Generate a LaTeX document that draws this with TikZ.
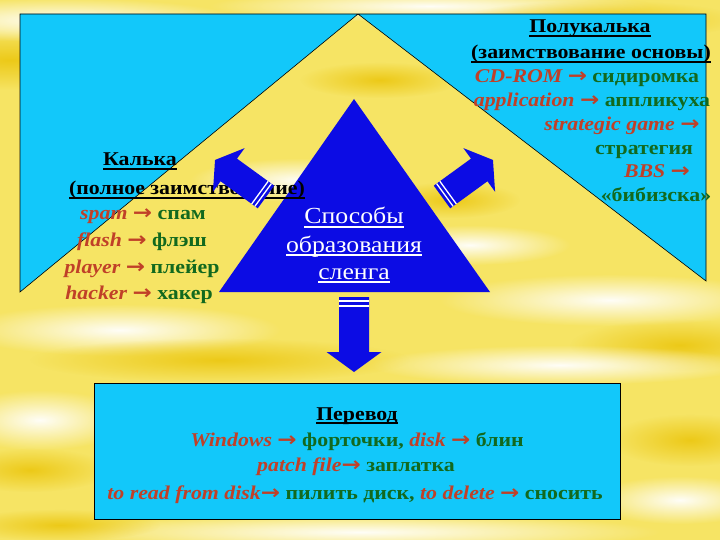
\documentclass[tikz,border=0pt]{standalone}
\usepackage{fontspec}
\usetikzlibrary{fadings}
\tikzfading[name=softspot, inner color=transparent!0, outer color=transparent!100]
\setmainfont{Liberation Serif}[FakeStretch=1.12]
\newfontfamily\arrowfont{DejaVu Sans}[FakeStretch=1.15]
\definecolor{bgyellow}{RGB}{246,228,100}
\definecolor{bggold}{RGB}{236,200,20}
\definecolor{cyanfill}{RGB}{18,200,250}
\definecolor{bluefill}{RGB}{12,12,228}
\definecolor{enc}{RGB}{192,64,40}
\definecolor{ruc}{RGB}{18,105,30}
\newsavebox\ulbox
\newcommand\ulbar[1]{\leavevmode\sbox\ulbox{#1}\rlap{\vrule height -2.4pt depth 3.8pt width \wd\ulbox}\usebox\ulbox}
\newcommand\en[1]{{\color{enc}\bfseries\itshape #1}}
\newcommand\ru[1]{{\color{ruc}\bfseries #1}}
\newcommand\arr{{\color{enc}\arrowfont\bfseries\fontsize{20}{23}\selectfont →}}
\newcommand\ttl[1]{{\bfseries\ulbar{#1}}}
\tikzset{
  txt/.style={anchor=base, inner sep=0pt, font=\fontsize{19.5}{23}\selectfont},
  tritxt/.style={anchor=base, inner sep=0pt, text=white, font=\fontsize{23}{27}\selectfont},
  shapeline/.style={draw=black, line width=0.6pt},
  bluearrow/.style={fill=bluefill},
  stripe/.style={draw=white, line width=1.3pt},
  glow/.style={fill=white, path fading=softspot, opacity=0.95},
  gold/.style={fill=bggold, path fading=softspot, opacity=0.95}
}
\begin{document}
\begin{tikzpicture}[x=1pt,y=-1pt]
\useasboundingbox (0,0) rectangle (720,540);
% background
\fill[bgyellow] (0,0) rectangle (720,540);
\fill[gold] (10,60) ellipse [x radius=140, y radius=30];
\fill[glow] (60,20) ellipse [x radius=180, y radius=22];
\fill[glow] (430,6) ellipse [x radius=220, y radius=16];
\fill[gold] (600,20) ellipse [x radius=140, y radius=20];
\fill[glow] (610,300) ellipse [x radius=170, y radius=26];
\fill[gold] (680,345) ellipse [x radius=110, y radius=26];
\fill[glow] (120,330) ellipse [x radius=160, y radius=26];
\fill[gold] (220,360) ellipse [x radius=190, y radius=22];
\fill[glow] (560,365) ellipse [x radius=190, y radius=20];
\fill[glow] (40,420) ellipse [x radius=90, y radius=30];
\fill[gold] (30,470) ellipse [x radius=80, y radius=22];
\fill[gold] (690,440) ellipse [x radius=80, y radius=26];
\fill[glow] (680,500) ellipse [x radius=90, y radius=24];
\fill[glow] (360,532) ellipse [x radius=300, y radius=18];
\fill[gold] (60,525) ellipse [x radius=100, y radius=16];
\fill[glow] (300,180) ellipse [x radius=110, y radius=22];
\fill[glow] (470,245) ellipse [x radius=100, y radius=20];
\fill[gold] (380,80) ellipse [x radius=80, y radius=18];
\fill[gold] (450,200) ellipse [x radius=70, y radius=18];
% cyan background shape
\filldraw[fill=cyanfill, shapeline] (20,292) -- (20,14) -- (706,14) -- (706,281) -- (358,14) -- cycle;
% bottom box
\node[shapeline, fill=cyanfill, minimum width=526pt, minimum height=136pt, anchor=north west, inner sep=0pt] (box) at (94,383) {};
% central triangle
\fill[bluefill] (354,99) -- (490,292) -- (219,292) -- cycle;
% left texts
\node[txt] (kalka) at (140,166) {\ttl{Калька}};
\node[txt] (kalkasub) at (187,195) {\ttl{(полное заимствование)}};
\node[txt] (l1) at (143,220) {\en{spam} \arr\ \ru{спам}};
\node[txt] (l2) at (142,247) {\en{flash} \arr\ \ru{флэш}};
\node[txt] (l3) at (142,273) {\en{player} \arr\ \ru{плейер}};
\node[txt] (l4) at (139,299) {\en{hacker} \arr\ \ru{хакер}};
% right texts
\node[txt] (polu) at (590,33) {\ttl{Полукалька}};
\node[txt] (polusub) at (591,59) {\ttl{(заимствование основы)}};
\node[txt] (r1) at (587,83) {\en{CD-ROM} \arr\ \ru{сидиромка}};
\node[txt] (r2) at (592,107) {\en{application} \arr\ \ru{аппликуха}};
\node[txt] (r3) at (622,131) {\en{strategic game} \arr};
\node[txt] (r4) at (644,155) {\ru{стратегия}};
\node[txt] (r5) at (657,178) {\en{BBS} \arr};
\node[txt] (r6) at (656,202) {\ru{«бибизска»}};
% triangle text
\node[tritxt] (t1) at (354,224) {\ulbar{Способы}};
\node[tritxt] (t2) at (354,252) {\ulbar{образования}};
\node[tritxt] (t3) at (354,279) {\ulbar{сленга}};
% bottom texts
\node[txt] (b0) at (357,420) {\ttl{Перевод}};
\node[txt] (b1) at (357,446) {\en{Windows} \arr\ \ru{форточки,} \en{disk} \arr\ \ru{блин}};
\node[txt] (b2) at (356,471) {\en{patch file}\arr\ \ru{заплатка}};
\node[txt] (b3) at (355,499) {\en{to read from disk}\arr\ \ru{пилить диск,} \en{to delete} \arr\ \ru{сносить}};
% striped block arrows
\begin{scope}[shift={(442,197)}, rotate=36]
  \fill[bluearrow] (0,-14) -- (46,-14) -- (46,-27) -- (63,0) -- (46,27) -- (46,14) -- (0,14) -- cycle;
  \draw[stripe] (3.5,-14) -- (3.5,14);
  \draw[stripe] (7.5,-14) -- (7.5,14);
\end{scope}
\begin{scope}[shift={(266,197)}, rotate=144]
  \fill[bluearrow] (0,-14) -- (46,-14) -- (46,-27) -- (63,0) -- (46,27) -- (46,14) -- (0,14) -- cycle;
  \draw[stripe] (3.5,-14) -- (3.5,14);
  \draw[stripe] (7.5,-14) -- (7.5,14);
\end{scope}
\begin{scope}[shift={(354,297)}, rotate=-90]
  \fill[bluearrow] (0,-15) -- (55,-15) -- (55,-27.5) -- (75,0) -- (55,27.5) -- (55,15) -- (0,15) -- cycle;
  \draw[stripe] (4,-15) -- (4,15);
  \draw[stripe] (9,-15) -- (9,15);
\end{scope}
\end{tikzpicture}
\end{document}
